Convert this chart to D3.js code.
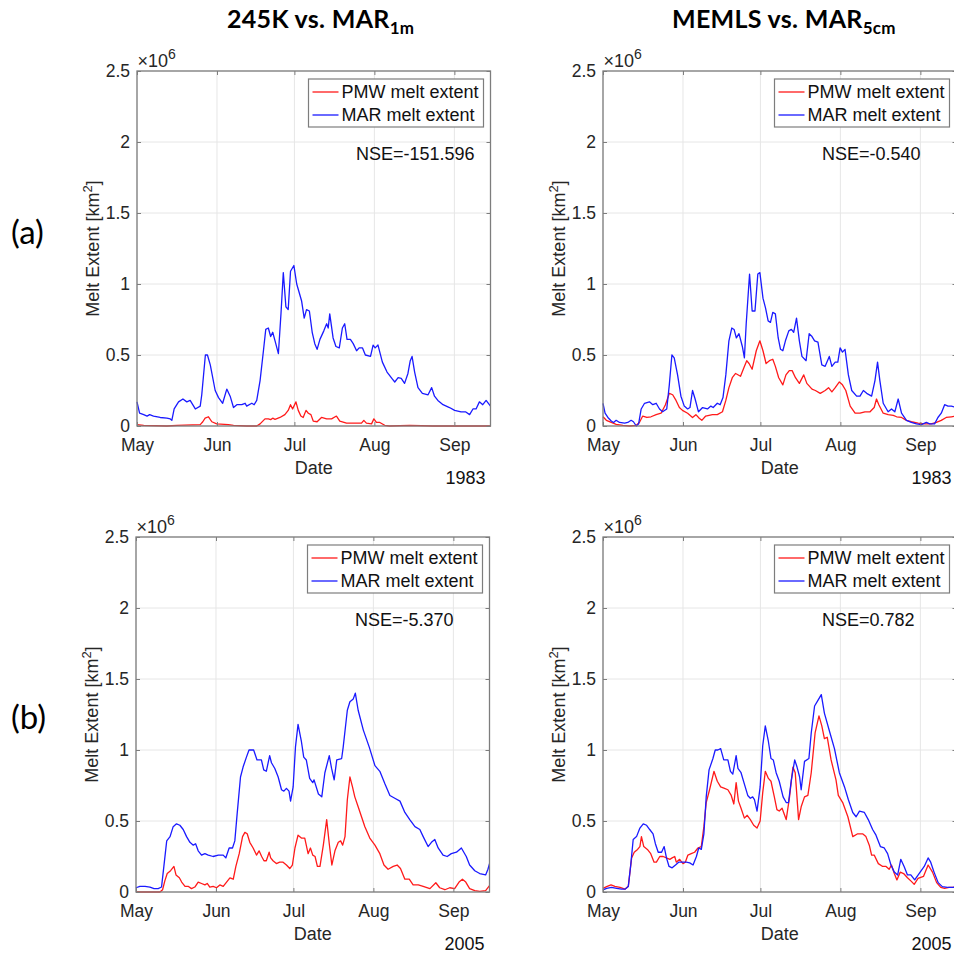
<!DOCTYPE html>
<html><head><meta charset="utf-8">
<script src="https://cdn.jsdelivr.net/npm/d3@7"></script>
<style>body{margin:0;background:#fff;} svg{display:block;}</style>
</head><body><svg id="c" width="954" height="955"></svg>
<script>
// ---- axis / label data ----
const monthDays = [0, 31, 61, 92, 123];           // days after May 1
const monthLabels = ["May", "Jun", "Jul", "Aug", "Sep"];
const dayEnd = 137;
const yTicks = [0, 0.5, 1, 1.5, 2, 2.5];          // x 10^6 km^2
const yTickLabels = ["0", "0.5", "1", "1.5", "2", "2.5"];
const nseLabels = ["NSE=-151.596", "NSE=-0.540", "NSE=-5.370", "NSE=0.782"];
const yearLabels = ["1983", "1983", "2005", "2005"];
const rowLabels = ["(a)", "(b)"];
const legendLabels = ["PMW melt extent", "MAR melt extent"];

// ---- series: [day after May 1, melt extent (x10^6 km^2)] ----
const mar_1m_1983 = [[0,0.17],[1,0.09],[2.6,0.08],[3.9,0.07],[4.9,0.08],[6.4,0.07],[9,0.06],[11.6,0.055],[12.9,0.05],[13.5,0.04],[14.4,0.12],[16.1,0.17],[17.8,0.19],[19.3,0.17],[20.6,0.18],[22.6,0.12],[24.5,0.14],[25.1,0.22],[26.5,0.50],[27.3,0.50],[28.4,0.43],[30.3,0.25],[31.6,0.2],[33.2,0.16],[34.8,0.26],[36.1,0.21],[37.4,0.13],[38.7,0.15],[40.6,0.15],[41.9,0.16],[42.5,0.14],[44.5,0.16],[45.4,0.15],[46.4,0.18],[47.7,0.32],[49,0.53],[49.9,0.68],[50.9,0.69],[51.8,0.63],[52.6,0.66],[53.5,0.6],[54.8,0.51],[55.8,0.79],[56.7,1.08],[57.7,0.84],[58.6,0.82],[59.5,1.09],[60.8,1.13],[61.9,1.0],[63.8,0.88],[64.8,0.76],[65.7,0.82],[66.8,0.81],[67.9,0.66],[68.9,0.58],[69.8,0.54],[70.9,0.61],[72.4,0.67],[73.5,0.72],[74.1,0.69],[74.7,0.79],[76,0.62],[77.1,0.56],[78.4,0.55],[79.6,0.69],[80.5,0.72],[81.4,0.61],[82.7,0.61],[83.8,0.58],[85.1,0.53],[86.1,0.55],[87.4,0.55],[88.5,0.50],[90.5,0.49],[91.5,0.57],[92.3,0.55],[93.4,0.57],[95.1,0.45],[96.9,0.38],[99,0.33],[99.9,0.31],[101.2,0.34],[102.4,0.335],[103.7,0.30],[105,0.37],[105.9,0.46],[106.6,0.49],[107.6,0.38],[108.9,0.27],[110.6,0.23],[112.8,0.22],[114.2,0.27],[115.3,0.21],[116.6,0.18],[118.6,0.15],[121.1,0.13],[123.1,0.11],[125.6,0.10],[127.3,0.10],[128.9,0.08],[130.2,0.12],[131.4,0.12],[132.7,0.17],[134,0.15],[135.3,0.18],[137,0.14]];
const pmw_245K_1983 = [[0,0.01],[2.6,0.005],[11.6,0],[15.5,0.005],[24.5,0.01],[25.5,0.03],[26.4,0.055],[27.7,0.065],[29,0.03],[30.9,0.015],[35.4,0.01],[37.4,0.005],[42.5,0],[46.4,0],[47.7,0.015],[49.6,0.05],[50.9,0.05],[51.8,0.045],[52.6,0.055],[53.5,0.047],[55.4,0.06],[57.3,0.08],[58.6,0.11],[59.5,0.15],[60.3,0.12],[61.6,0.17],[62.5,0.11],[63.5,0.07],[64.4,0.06],[65.5,0.11],[66.4,0.09],[67.4,0.08],[68.3,0.035],[69.8,0.03],[71.5,0.06],[73.5,0.05],[75.4,0.05],[77.3,0.07],[78.6,0.035],[81.2,0.02],[83.8,0.02],[87,0.02],[87.9,0.04],[88.9,0.02],[90.9,0.015],[91.8,0.05],[92.8,0.025],[94.1,0.025],[96,0.005],[97.9,0],[105.7,0.005],[114.7,0],[137,0]];
const mar_5cm_1983 = [[0,0.16],[0.8,0.09],[1.9,0.06],[3.2,0.035],[4.1,0.025],[5.1,0.04],[6.4,0.025],[8.4,0.02],[9.6,0.025],[10.9,0.04],[11.8,0.03],[12.9,0],[13.8,0.015],[14.8,0.12],[16.1,0.16],[18,0.17],[19.3,0.15],[20.6,0.16],[21.9,0.12],[23.1,0.1],[24.7,0.12],[25.7,0.29],[26.7,0.50],[27.6,0.48],[28.9,0.36],[30.2,0.21],[31.5,0.14],[32.8,0.12],[33.7,0.13],[34.7,0.25],[35.7,0.19],[37,0.10],[38.6,0.13],[40.5,0.12],[41.8,0.14],[42.7,0.13],[44.3,0.16],[45.4,0.15],[46.5,0.2],[47.6,0.36],[48.8,0.60],[49.9,0.69],[50.8,0.68],[51.7,0.62],[52.7,0.65],[54,0.56],[54.8,0.48],[55.5,0.72],[56.8,1.07],[57.8,0.81],[58.9,0.81],[60,1.07],[60.8,1.08],[62,0.9],[63,0.83],[64,0.74],[64.9,0.73],[65.8,0.8],[66.8,0.79],[67.9,0.62],[68.8,0.54],[69.7,0.53],[70.7,0.6],[72,0.67],[73,0.68],[73.9,0.66],[75,0.76],[76.1,0.6],[77.1,0.49],[78.7,0.46],[79.9,0.65],[81,0.63],[82,0.6],[83.3,0.59],[84.8,0.43],[86.1,0.42],[87.7,0.49],[88.7,0.42],[90,0.45],[91,0.45],[91.9,0.55],[92.8,0.52],[93.8,0.54],[95.1,0.36],[96.4,0.25],[98.3,0.21],[99.6,0.21],[100.9,0.25],[102.2,0.23],[104.1,0.21],[105.4,0.32],[106.4,0.45],[107.3,0.32],[108.6,0.16],[110.5,0.1],[111.8,0.12],[113.1,0.10],[114.4,0.19],[115.7,0.09],[117.6,0.04],[119.5,0.025],[121.5,0.015],[123.4,0.01],[125.3,0.025],[126.6,0.015],[128.5,0.015],[129.8,0.06],[131.1,0.09],[132.4,0.15],[133.7,0.14],[135,0.14],[137,0.13]];
const pmw_memls_1983 = [[0,0.065],[1.3,0.04],[3.2,0.025],[5.1,0.012],[7.7,0.005],[10.3,0],[12.9,0.005],[14.1,0.025],[15.4,0.07],[17,0.06],[18.6,0.065],[20.6,0.08],[22.5,0.09],[24.2,0.15],[25.7,0.23],[27,0.22],[28.3,0.18],[29.6,0.13],[30.8,0.11],[32.8,0.09],[34.7,0.06],[36,0.08],[37.3,0.055],[38.3,0.04],[39.8,0.07],[42.4,0.08],[44.3,0.08],[46.3,0.10],[47.6,0.18],[48.8,0.27],[50.1,0.34],[51.4,0.37],[53.3,0.35],[54.6,0.41],[55.7,0.46],[56.6,0.44],[57.8,0.40],[59.4,0.53],[60.8,0.60],[62,0.53],[63.2,0.44],[64.5,0.46],[65.8,0.47],[66.8,0.42],[68.1,0.34],[69.7,0.29],[70.9,0.36],[72.2,0.39],[73.3,0.39],[74.6,0.34],[76.1,0.30],[77.8,0.36],[79,0.30],[81,0.26],[82.3,0.25],[84.2,0.23],[86.1,0.25],[87.4,0.27],[88.7,0.24],[90,0.27],[91.6,0.31],[92.8,0.29],[94.1,0.25],[95.8,0.14],[97.7,0.09],[99.6,0.09],[101.5,0.10],[103.5,0.10],[105.1,0.13],[106,0.19],[106.9,0.15],[108.6,0.09],[110.5,0.08],[112.5,0.075],[113.8,0.065],[115.7,0.06],[117.6,0.04],[119.5,0.03],[122.1,0.02],[124.7,0.015],[127.2,0.015],[129.2,0.025],[131.1,0.04],[133,0.06],[135,0.065],[137,0.07]];
const mar_1m_2005 = [[0,0.03],[1.5,0.04],[3.5,0.04],[5.4,0.035],[7,0.024],[8.6,0.024],[9.9,0.035],[10.8,0.18],[11.9,0.36],[13.2,0.39],[14.4,0.46],[15.7,0.48],[17,0.47],[18.3,0.44],[19.6,0.39],[20.9,0.35],[22.2,0.33],[23.1,0.34],[24.1,0.29],[25.4,0.26],[26.7,0.27],[28,0.26],[29.9,0.25],[31.9,0.26],[33.8,0.26],[34.8,0.24],[36.1,0.31],[37.4,0.31],[38.3,0.36],[39.2,0.55],[40.5,0.81],[41.5,0.88],[42.8,0.95],[43.8,1.0],[44.7,1.0],[45.6,1.0],[46.9,0.93],[48.6,0.93],[49.5,0.86],[50.5,0.85],[51.8,0.96],[52.5,0.91],[53.8,0.87],[55.1,0.81],[56.4,0.72],[57.3,0.71],[58.3,0.73],[59.3,0.71],[59.9,0.64],[60.9,0.74],[61.8,1.02],[62.8,1.18],[64.1,1.06],[65,0.95],[66,0.93],[67.3,0.80],[68.5,0.77],[69,0.79],[70.7,0.69],[72,0.67],[73.2,0.84],[74.9,0.96],[75.8,0.87],[76.8,0.79],[77.8,0.93],[79.7,0.94],[80.3,1.02],[81.9,1.28],[82.9,1.34],[84.2,1.36],[85,1.40],[86.1,1.28],[88.1,1.14],[90.4,1.02],[92.6,0.89],[94.5,0.85],[96.5,0.76],[98.4,0.68],[100.3,0.66],[102.3,0.64],[104.2,0.56],[106.1,0.51],[108.1,0.46],[110,0.44],[111.3,0.39],[113.2,0.32],[114.5,0.35],[115.8,0.37],[117.1,0.31],[119,0.26],[120.6,0.25],[122.2,0.27],[124.2,0.28],[126.1,0.31],[128,0.25],[129.3,0.19],[131.3,0.15],[133.2,0.13],[135.5,0.12],[136.4,0.16],[137,0.20]];
const pmw_245K_2005 = [[0,0],[9.3,0],[10.3,0.016],[11.2,0.08],[12.1,0.13],[13.4,0.15],[14.7,0.18],[15.5,0.12],[16.8,0.10],[17.7,0.07],[19,0.04],[20.2,0.04],[21.5,0.024],[22.8,0.035],[24.1,0.07],[25.4,0.06],[26.7,0.05],[27.6,0.06],[28.6,0.035],[29.9,0.04],[31.2,0.03],[32.5,0.05],[33.8,0.04],[35.1,0.07],[36.4,0.10],[37.7,0.09],[38.7,0.18],[40,0.27],[41.3,0.39],[42.2,0.42],[43.1,0.41],[44.1,0.35],[45.4,0.31],[46.7,0.26],[47.7,0.29],[48.7,0.25],[49.6,0.22],[50.5,0.22],[51.6,0.28],[52.2,0.24],[53.1,0.22],[54.4,0.2],[55.7,0.21],[57,0.21],[58.3,0.19],[59.6,0.165],[60.6,0.19],[61.6,0.31],[62.8,0.40],[64.1,0.38],[65.4,0.38],[66.7,0.27],[67.6,0.31],[68.5,0.26],[69.4,0.25],[70.3,0.18],[71.3,0.18],[72.6,0.33],[73.9,0.51],[74.9,0.34],[75.9,0.19],[77.1,0.29],[78.4,0.35],[79.3,0.36],[80.1,0.33],[81,0.39],[81.9,0.65],[82.9,0.81],[83.9,0.74],[84.8,0.67],[86.1,0.60],[87.4,0.53],[88.7,0.46],[90.6,0.38],[92.6,0.33],[94.5,0.27],[96.1,0.19],[97.7,0.16],[99.7,0.18],[101.2,0.19],[102.5,0.165],[104.2,0.09],[105.9,0.09],[107.4,0.05],[109.4,0.05],[111.3,0.04],[113.9,0.024],[116.2,0.065],[117.7,0.03],[119.7,0.016],[121.6,0.03],[123.5,0.024],[125.2,0.07],[126.5,0.09],[127.8,0.07],[129.3,0.024],[131.3,0.01],[133.2,0.005],[135.5,0.01],[137,0.045]];
const mar_5cm_2005 = [[0,0.015],[1.4,0.026],[3.3,0.033],[5.3,0.026],[7.2,0.02],[8.5,0.02],[9.8,0.038],[10.8,0.2],[11.7,0.37],[13,0.39],[14.3,0.45],[15.6,0.48],[16.9,0.47],[18.1,0.44],[19.4,0.41],[20.3,0.34],[21.4,0.28],[22.7,0.28],[23.7,0.32],[24.6,0.24],[25.6,0.18],[26.8,0.17],[28.1,0.19],[29.3,0.21],[31,0.21],[32.3,0.21],[33.6,0.205],[34.9,0.19],[36.2,0.25],[37.1,0.31],[38.1,0.30],[39.1,0.41],[40,0.67],[41.1,0.86],[42.6,0.94],[43.5,1.0],[44.5,1.0],[45.6,1.01],[46.8,0.93],[48.4,0.93],[49.4,0.85],[50.3,0.83],[51.6,0.96],[52.3,0.87],[53.5,0.84],[54.8,0.76],[56.1,0.68],[57.1,0.66],[58,0.67],[58.7,0.65],[59.7,0.57],[60.9,0.74],[61.9,1.03],[62.9,1.17],[64.1,1.06],[65.1,0.94],[66,0.93],[67.1,0.84],[68.3,0.78],[69.8,0.67],[71,0.63],[71.9,0.63],[73,0.79],[74.3,0.93],[75.2,0.88],[76.2,0.81],[76.8,0.72],[78.1,0.92],[79.8,0.94],[80.7,1.12],[82,1.31],[83.3,1.35],[84.6,1.39],[85.8,1.26],[87.8,1.13],[89.7,1.01],[91.6,0.84],[93.6,0.74],[95.1,0.65],[96.8,0.56],[98.1,0.53],[99.4,0.57],[101.3,0.56],[102.8,0.51],[104.5,0.44],[105.8,0.40],[107.5,0.32],[109,0.31],[110.3,0.27],[111.6,0.19],[112.9,0.14],[114.2,0.12],[115.4,0.23],[116.7,0.18],[118,0.12],[119.3,0.12],[120.8,0.085],[122.5,0.13],[124.5,0.18],[126,0.24],[127,0.21],[128.3,0.14],[129.9,0.066],[131.5,0.038],[133.5,0.033],[135.7,0.033],[137,0.035]];
const pmw_memls_2005 = [[0,0.026],[1.4,0.038],[3.1,0.05],[4.6,0.04],[6.6,0.033],[8.5,0.02],[9.8,0.04],[11.1,0.24],[12.1,0.28],[13.4,0.30],[14.3,0.32],[14.9,0.39],[15.8,0.32],[17.2,0.30],[18.5,0.27],[19.8,0.21],[20.7,0.21],[22,0.25],[23.3,0.25],[24.6,0.24],[25.9,0.23],[26.8,0.24],[27.8,0.25],[28.4,0.21],[29.7,0.23],[31,0.20],[31.9,0.21],[32.9,0.26],[34.2,0.27],[35.5,0.28],[36.8,0.31],[38.1,0.32],[39.1,0.46],[40,0.63],[41.3,0.72],[43,0.85],[44.3,0.78],[45.6,0.74],[47.1,0.73],[48.4,0.72],[49.7,0.68],[50.7,0.62],[51.6,0.77],[52.5,0.64],[53.5,0.59],[54.8,0.52],[55.9,0.54],[57.1,0.51],[58.4,0.47],[59.7,0.45],[60.9,0.50],[61.9,0.70],[62.9,0.85],[64.1,0.80],[65.1,0.78],[66.4,0.67],[67.4,0.58],[68.3,0.57],[69.4,0.59],[71,0.51],[72.3,0.67],[73.6,0.88],[74.5,0.84],[75.8,0.51],[76.8,0.60],[78.1,0.67],[79.4,0.68],[80.7,0.84],[82.2,1.12],[83.7,1.24],[84.8,1.17],[85.8,1.08],[86.9,1.09],[88.4,0.93],[90.3,0.79],[91.2,0.68],[92.9,0.63],[94.9,0.53],[96.8,0.39],[98.7,0.41],[100.6,0.41],[101.9,0.39],[103.2,0.33],[104.1,0.26],[105.1,0.26],[106.7,0.20],[108.4,0.18],[109.7,0.18],[110.9,0.16],[111.8,0.19],[112.9,0.13],[113.9,0.085],[115.2,0.14],[116.5,0.13],[118,0.10],[119.6,0.073],[120.6,0.054],[122.1,0.096],[124.2,0.11],[126,0.19],[127.7,0.14],[129.3,0.066],[130.9,0.033],[132.4,0.026],[134.1,0.033],[135.7,0.033],[137,0.035]];

// ---- layout ----
const svg = d3.select("#c");
const FONT = "'Liberation Sans', Arial, Helvetica, sans-serif";
const TFONT = "Lato, 'Open Sans', sans-serif";
const W = 353.5, H = 355;
const RED = "#ff1a1a", BLUE = "#1a1aff";
const AXC = "#7d7d7d", TXT = "#262626", GRID = "#e6e6e6";
const TICKFS = 17.5;

const panels = [
  {x0: 137, y0: 71,  red: pmw_245K_1983,  blue: mar_1m_1983,  i: 0},
  {x0: 603, y0: 71,  red: pmw_memls_1983, blue: mar_5cm_1983, i: 1},
  {x0: 136, y0: 537, red: pmw_245K_2005,  blue: mar_1m_2005,  i: 2},
  {x0: 603, y0: 537, red: pmw_memls_2005, blue: mar_5cm_2005, i: 3}
];

panels.forEach(p => {
  const x = d3.scaleLinear().domain([0, dayEnd]).range([p.x0, p.x0 + W]);
  const y = d3.scaleLinear().domain([0, 2.5]).range([p.y0 + H, p.y0]);
  const g = svg.append("g");

  // grid
  g.append("g").selectAll("line").data(monthDays).join("line")
    .attr("x1", d => x(d)).attr("x2", d => x(d))
    .attr("y1", p.y0).attr("y2", p.y0 + H)
    .attr("stroke", GRID).attr("stroke-width", 1);
  g.append("g").selectAll("line").data(yTicks).join("line")
    .attr("x1", p.x0).attr("x2", p.x0 + W)
    .attr("y1", d => y(d)).attr("y2", d => y(d))
    .attr("stroke", GRID).attr("stroke-width", 1);

  // series
  const line = d3.line().x(d => x(d[0])).y(d => y(d[1]));
  g.append("path").datum(p.red).attr("d", line)
    .attr("fill", "none").attr("stroke", RED).attr("stroke-width", 1.3).attr("stroke-linejoin", "round");
  g.append("path").datum(p.blue).attr("d", line)
    .attr("fill", "none").attr("stroke", BLUE).attr("stroke-width", 1.3).attr("stroke-linejoin", "round");

  // axes
  const styleAxis = sel => {
    sel.select(".domain").remove();
    sel.selectAll(".tick line").attr("stroke", AXC);
    sel.selectAll(".tick text").attr("fill", TXT).attr("font-family", FONT).attr("font-size", TICKFS);
  };
  g.append("g").attr("transform", `translate(0,${p.y0 + H})`)
    .call(d3.axisBottom(x).tickValues(monthDays).tickFormat((d, i) => monthLabels[i])
      .tickSizeInner(-4).tickSizeOuter(0).tickPadding(12.5)).call(styleAxis);
  g.append("g").attr("transform", `translate(0,${p.y0})`)
    .call(d3.axisTop(x).tickValues(monthDays).tickFormat("")
      .tickSizeInner(-4).tickSizeOuter(0)).call(styleAxis);
  const yAx = g.append("g").attr("transform", `translate(${p.x0},0)`)
    .call(d3.axisLeft(y).tickValues(yTicks).tickFormat((d, i) => yTickLabels[i])
      .tickSizeInner(-4).tickSizeOuter(0).tickPadding(7)).call(styleAxis);
  yAx.selectAll(".tick text").attr("dy", "0.3em");
  g.append("g").attr("transform", `translate(${p.x0 + W},0)`)
    .call(d3.axisRight(y).tickValues(yTicks).tickFormat("")
      .tickSizeInner(-4).tickSizeOuter(0)).call(styleAxis);

  // box
  g.append("rect").attr("x", p.x0).attr("y", p.y0).attr("width", W).attr("height", H)
    .attr("fill", "none").attr("stroke", AXC).attr("stroke-width", 1.3);

  // exponent
  const ex = g.append("text").attr("x", p.x0 + 0.5).attr("y", p.y0 - 4.5)
    .attr("font-family", FONT).attr("font-size", 18).attr("fill", TXT);
  ex.append("tspan").text("\u00d710");
  ex.append("tspan").attr("dy", -8).attr("font-size", 14).text("6");

  // y label
  const yl = g.append("text")
    .attr("transform", `translate(${p.x0 - 38.5},${p.y0 + H / 2}) rotate(-90)`)
    .attr("text-anchor", "middle").attr("font-family", FONT).attr("font-size", 18).attr("fill", TXT);
  yl.append("tspan").text("Melt Extent [km");
  yl.append("tspan").attr("dy", -7).attr("font-size", 13).text("2");
  yl.append("tspan").attr("dy", 7).text("]");

  // x label
  g.append("text").attr("x", p.x0 + W / 2).attr("y", p.y0 + H + 47.5)
    .attr("text-anchor", "middle").attr("font-family", FONT).attr("font-size", 18).attr("fill", TXT)
    .text("Date");

  // year
  g.append("text").attr("x", p.x0 + W - 5).attr("y", p.y0 + H + 58)
    .attr("text-anchor", "end").attr("font-family", FONT).attr("font-size", 18).attr("fill", "#111")
    .text(yearLabels[p.i]);

  // NSE
  g.append("text").attr("x", p.x0 + 219).attr("y", p.y0 + 89)
    .attr("font-family", FONT).attr("font-size", 18).attr("fill", "#111")
    .text(nseLabels[p.i]);

  // legend
  const lx = p.x0 + W - 7 - 175, ly = p.y0 + 8;
  const lg = g.append("g");
  lg.append("rect").attr("x", lx).attr("y", ly).attr("width", 175).attr("height", 48)
    .attr("fill", "#fff").attr("stroke", AXC).attr("stroke-width", 1.2);
  [RED, BLUE].forEach((c, k) => {
    lg.append("line").attr("x1", lx + 4).attr("x2", lx + 30)
      .attr("y1", ly + 13 + 23 * k).attr("y2", ly + 13 + 23 * k)
      .attr("stroke", c).attr("stroke-width", 1.3);
    lg.append("text").attr("x", lx + 33).attr("y", ly + 19 + 23 * k)
      .attr("font-family", FONT).attr("font-size", 18).attr("fill", "#111")
      .text(legendLabels[k]);
  });
});

// column titles
const t1 = svg.append("text").attr("x", 227).attr("y", 28)
  .attr("font-family", TFONT).attr("font-weight", "bold").attr("font-size", 25)
  .attr("letter-spacing", 0.3).attr("fill", "#000");
t1.append("tspan").text("245K vs. MAR");
t1.append("tspan").attr("dy", 6).attr("font-size", 17).text("1m");
const t2 = svg.append("text").attr("x", 672).attr("y", 28)
  .attr("font-family", TFONT).attr("font-weight", "bold").attr("font-size", 25)
  .attr("letter-spacing", 0.3).attr("fill", "#000");
t2.append("tspan").text("MEMLS vs. MAR");
t2.append("tspan").attr("dy", 6).attr("font-size", 17).text("5cm");

// row labels
svg.selectAll(".row").data(rowLabels).join("text")
  .attr("x", 11).attr("y", (d, i) => [244, 729][i])
  .attr("font-family", TFONT).attr("font-size", 33).attr("fill", "#000")
  .text(d => d);
</script></body></html>
